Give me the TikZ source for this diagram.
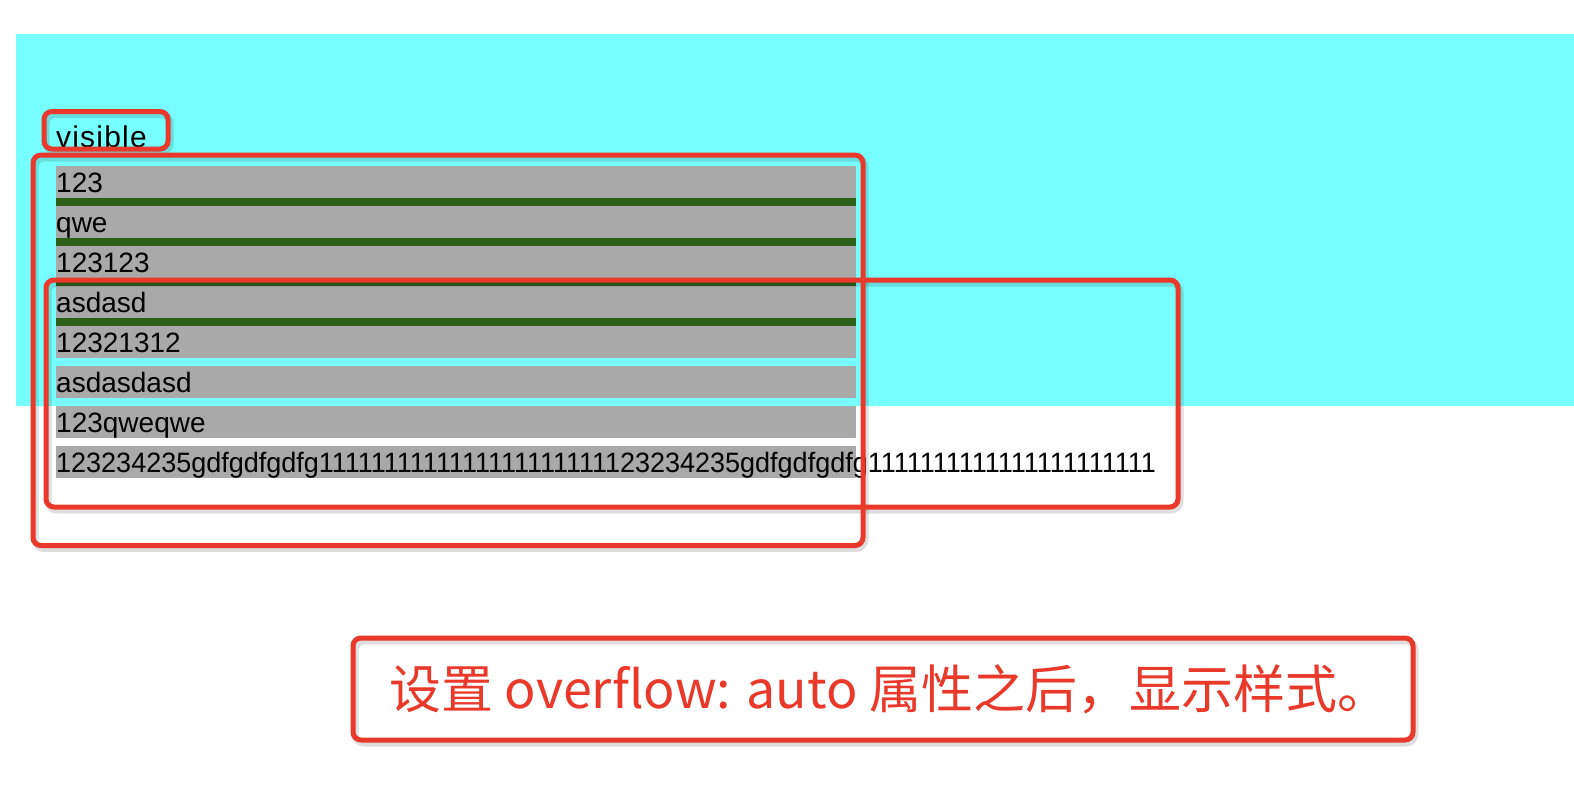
\documentclass[tikz,border=0pt]{standalone}
\usepackage{fontspec}
\setmainfont{Liberation Sans}
\newfontfamily\cjk{Noto Sans CJK SC}
\usepackage{graphicx}
\definecolor{cyanbg}{RGB}{119,255,255}
\definecolor{rowgray}{RGB}{169,169,169}
\definecolor{bargreen}{RGB}{45,96,26}
\definecolor{markred}{RGB}{232,57,42}
\tikzset{
  rowtext/.style={anchor=base west, inner sep=0pt, font=\fontsize{28}{32}\selectfont, text=black},
  redbox/.style={draw=markred, line width=5pt, rounded corners=8pt},
  shadowbox/.style={draw=black, draw opacity=0.13, line width=7pt, rounded corners=9pt},
}
\begin{document}
\begin{tikzpicture}[x=1pt,y=-1pt]
\useasboundingbox (0,0) rectangle (1574,806);
\fill[white] (0,0) rectangle (1574,806);
% cyan container
\fill[cyanbg] (16,34) rectangle (1574,406);
% visible label
\node[rowtext, font=\fontsize{30}{34}\selectfont] (vis) at (56,147) {\addfontfeature{LetterSpace=4}visible};
% rows
\foreach \t [count=\i from 0] in {123,qwe,123123,asdasd,12321312,asdasdasd,123qweqwe} {
  \fill[rowgray] (56,{166+40*\i}) rectangle (856,{198+40*\i});
  \node[rowtext] (r\i) at (56,{192+40*\i}) {\t};
}
\foreach \i in {0,1,2,3} {
  \fill[bargreen] (56,{198+40*\i}) rectangle (856,{206+40*\i});
}
\fill[rowgray] (56,446) rectangle (856,478);
\node[rowtext] (r7) at (56,472) {\resizebox{1100pt}{\height}{123234235gdfgdfgdfg1111111111111111111111123234235gdfgdfgdfg1111111111111111111111}};
% shadows
\draw[shadowbox] (46,114.5) rectangle (170,152);
\draw[shadowbox] (35,158) rectangle (865,548.5);
\draw[shadowbox] (48,283) rectangle (1180,510);
\draw[shadowbox] (355,641) rectangle (1415,743);
% red marks
\draw[redbox] (44,111.5) rectangle (168,149);
\draw[redbox] (33,155) rectangle (863,545.5);
\draw[redbox] (46,280) rectangle (1178,507);
\draw[redbox] (353,638) rectangle (1413,740);
\node[anchor=west, inner sep=0pt, text=markred, font=\cjk\fontsize{52}{58}\selectfont] (lbl) at (389,689) {设置 overflow: auto 属性之后，显示样式。};
\end{tikzpicture}
\end{document}
